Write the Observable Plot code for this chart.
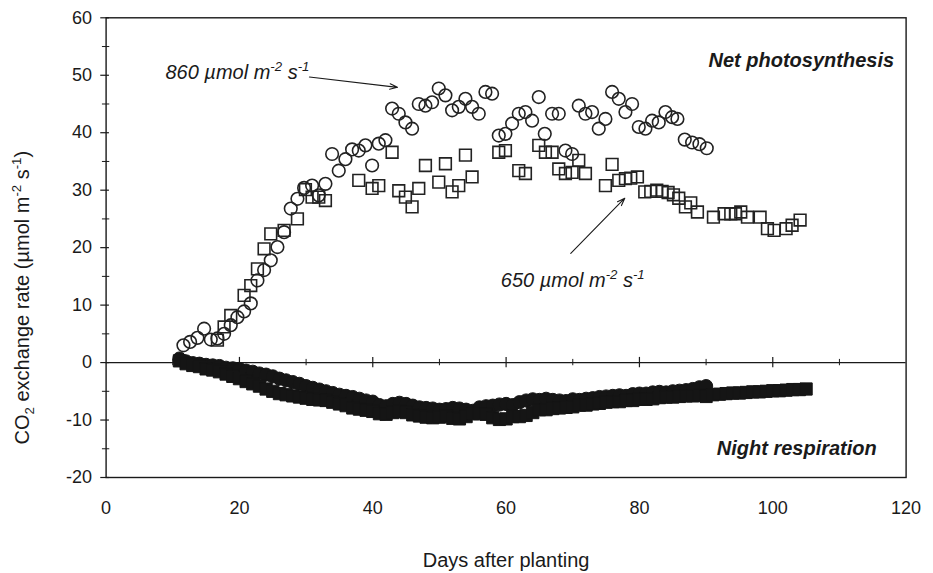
<!DOCTYPE html>
<html>
<head>
<meta charset="utf-8">
<script src="https://cdn.jsdelivr.net/npm/d3@7"></script>
<script src="https://cdn.jsdelivr.net/npm/@observablehq/plot@0.6"></script>
<style>
  html, body { margin: 0; padding: 0; background: #fff; }
  #chart { width: 933px; height: 573px; }
</style>
</head>
<body>
<div id="chart"></div>
<script>
// ---- Net photosynthesis, 860 µmol m-2 s-1 (open circles)
const ps860Days = [11.6,12.6,13.7,14.7,15.7,16.7,17.7,18.7,19.7,20.7,21.7,22.7,23.7,24.7,25.7,26.7,27.7,28.7,29.7,
  30.9,31.9,32.9,33.9,34.9,35.9,36.9,37.9,38.9,39.9,40.9,41.9,42.9,43.9,44.9,45.9,46.9,47.9,48.9,49.9,50.9,
  51.9,52.9,53.9,54.9,55.9,56.9,57.9,58.9,59.9,60.9,61.9,62.9,63.9,64.9,65.8,66.9,67.9,68.9,69.9,70.9,
  71.9,72.9,73.9,74.9,75.9,76.9,77.9,78.9,79.9,80.9,81.9,82.9,83.9,84.9,85.7,86.8,87.9,89.0,90.1];
const ps860 = [3.0,3.6,4.3,5.9,4.0,4.2,5.0,6.5,7.9,8.9,10.3,14.3,16.1,17.8,20.1,22.7,26.8,28.5,30.4,
  30.8,29.1,31.1,36.3,33.4,35.4,37.1,36.9,37.8,34.3,38.1,38.7,44.2,43.3,41.8,40.7,45.0,44.7,45.3,47.7,46.5,
  43.9,44.5,45.9,44.5,43.3,47.1,46.8,39.5,39.8,41.6,43.3,43.6,42.1,46.2,39.8,43.3,43.3,36.9,36.3,44.7,
  43.3,43.6,40.7,42.4,47.1,45.9,43.6,45.0,41.0,40.7,42.1,41.8,43.6,42.7,42.4,38.8,38.3,38.0,37.3];

// ---- Net photosynthesis, 650 µmol m-2 s-1 (open squares)
const ps650Days = [16.7,17.7,18.7,20.7,21.7,22.7,23.7,24.7,26.7,28.7,29.9,30.9,31.9,32.9,37.9,39.9,40.9,42.9,43.9,44.9,
  45.9,46.9,47.9,49.9,50.9,51.9,52.9,53.9,54.9,58.9,59.9,61.9,62.9,64.9,65.9,66.9,67.9,68.9,69.9,70.9,
  71.9,74.9,75.9,76.9,77.9,78.7,79.7,80.8,81.7,82.6,83.4,84.3,85.1,85.9,86.9,87.7,88.7,91.1,92.7,93.7,
  94.4,95.2,96.2,98.1,99.2,100.2,102.0,102.9,104.1];
const ps650 = [3.9,6.2,8.2,11.7,13.4,16.3,19.8,22.4,23.0,25.0,30.1,28.8,28.8,28.2,31.7,30.3,30.8,36.6,29.9,28.8,
  27.1,30.3,34.3,31.4,34.6,29.7,30.8,36.1,32.3,36.6,36.9,33.4,32.9,37.8,36.6,36.6,33.7,32.9,33.1,35.2,
  32.9,30.8,34.5,31.7,32.0,32.1,32.3,29.7,29.8,30.0,29.8,29.6,29.2,28.6,27.1,27.8,26.2,25.3,25.9,25.9,
  25.9,26.2,25.3,25.3,23.3,23.0,23.3,23.9,24.8];

// ---- Night respiration, 860 (filled circles)
const resp860Days = [11,12,13,14,15,16,17,18,19,20,21,22,23,24,25,26,27,28,29,30,
  31,32,33,34,35,36,37,38,39,40,41,42,43,44,45,46,47,48,49,50,
  51,52,53,54,55,56,57,58,59,60,61,62,63,64,65,66,67,68,69,70,
  71,72,73,74,75,76,77,78,79,80,81,82,83,84,85,86,87,88,89,90];
const resp860 = [0.7,0.2,-0.1,-0.2,-0.4,-0.5,-0.6,-0.9,-1.0,-1.1,-1.4,-1.6,-1.9,-2.1,-2.4,-2.8,-3.1,-3.4,-3.7,-4.1,
  -4.4,-4.7,-5.0,-5.3,-5.6,-5.8,-6.0,-6.3,-6.6,-6.8,-7.4,-7.6,-7.2,-7.0,-7.2,-7.5,-7.8,-7.9,-8.0,-8.2,
  -8.1,-7.9,-8.0,-8.2,-8.4,-7.8,-7.6,-7.5,-7.3,-7.2,-7.4,-6.9,-6.6,-6.4,-6.5,-6.3,-6.5,-6.6,-6.7,-6.4,
  -6.5,-6.3,-6.2,-6.0,-5.9,-5.8,-5.7,-5.8,-5.5,-5.4,-5.4,-5.2,-5.1,-5.2,-5.0,-4.9,-4.8,-4.6,-4.3,-4.1];

// ---- Night respiration, 650 (filled squares)
const resp650Days = [11,12,13,14,15,16,17,18,19,20,21,22,23,24,25,26,27,28,29,30,
  31,32,33,34,35,36,37,38,39,40,41,42,43,44,45,46,47,48,49,50,
  51,52,53,54,55,56,57,58,59,60,61,62,63,64,65,66,67,68,69,70,
  71,72,73,74,75,76,77,78,79,80,81,82,83,84,85,86,87,88,89,90,
  91,92,93,94,95,96,97,98,99,100,101,102,103,104,105];
const resp650 = [0.3,-0.2,-0.5,-0.7,-1.1,-1.3,-1.6,-2.0,-2.4,-2.8,-3.3,-3.7,-4.1,-4.6,-5.0,-5.4,-5.6,-5.8,-6.0,-6.2,
  -6.4,-6.5,-6.6,-6.9,-7.2,-7.5,-7.9,-8.1,-8.3,-8.5,-8.9,-9.0,-8.7,-8.5,-8.7,-9.1,-9.3,-9.5,-9.6,-9.5,
  -9.3,-9.7,-9.8,-9.4,-8.9,-8.9,-9.0,-9.6,-9.9,-9.8,-9.4,-9.4,-9.2,-8.7,-8.2,-8.2,-8.0,-7.9,-7.8,-7.7,
  -7.4,-7.4,-7.2,-7.1,-6.9,-6.8,-6.8,-6.6,-6.6,-6.4,-6.4,-6.3,-6.1,-6.0,-6.0,-5.9,-5.8,-5.8,-5.7,-5.9,
  -5.6,-5.5,-5.4,-5.3,-5.3,-5.2,-5.1,-5.1,-5.0,-4.9,-4.9,-4.8,-4.7,-4.7,-4.6];

// ---- Ticks and labels
const xTickValues = [0, 20, 40, 60, 80, 100, 120];
const xMinorTicks = [10, 30, 50, 70, 90, 110];
const yTickValues = [-20, -10, 0, 10, 20, 30, 40, 50, 60];
const yMinorTicks = [-15, -5, 5, 15, 25, 35, 45, 55];
const xTitle = "Days after planting";
const yTitle = "CO2 exchange rate (µmol m-2 s-1)";
const label860 = "860 µmol m-2 s-1";
const label650 = "650 µmol m-2 s-1";
const labelNet = "Net photosynthesis";
const labelNight = "Night respiration";

const zip = (xs, ys) => xs.map((x, i) => ({x, y: ys[i]}));
const ink = "#1a1a1a";

const chart = Plot.plot({
  width: 933,
  height: 573,
  marginLeft: 105.6,
  marginRight: 27.4,
  marginTop: 17.3,
  marginBottom: 96,
  style: {fontFamily: "'Liberation Sans', Arial, sans-serif", fontSize: "18px", color: ink, background: "#fff"},
  x: {domain: [0, 120], ticks: xTickValues, tickFormat: d => String(d), tickSize: 0, tickPadding: 24, label: null},
  y: {domain: [-20, 60], ticks: yTickValues, tickFormat: d => String(d), tickSize: 0, tickPadding: 14, label: null},
  marks: [
    Plot.frame({stroke: ink, strokeWidth: 1.4}),
    Plot.ruleY([0], {stroke: ink, strokeWidth: 1.2}),
    // ticks on the zero line
    Plot.ruleX(xTickValues.filter(d => d > 0 && d < 120), {x: d => d, y1: -0.9, y2: 0.9, stroke: ink, strokeWidth: 1.2}),
    Plot.ruleX(xMinorTicks, {x: d => d, y1: -0.55, y2: 0.55, stroke: ink, strokeWidth: 1}),
    // ticks on the y axis
    Plot.ruleY(yTickValues, {y: d => d, x1: -0.8, x2: 0.5, stroke: ink, strokeWidth: 1.2}),
    Plot.ruleY(yMinorTicks, {y: d => d, x1: -0.55, x2: 0.55, stroke: ink, strokeWidth: 1}),
    // respiration (filled)
    Plot.dot(zip(resp860Days, resp860), {x: "x", y: "y", r: 6.6, symbol: "circle", fill: "#151515", stroke: "#151515", strokeWidth: 1}),
    Plot.dot(zip(resp650Days, resp650), {x: "x", y: "y", r: 6.9, symbol: "square", fill: "#151515", stroke: "#151515", strokeWidth: 1}),
    // photosynthesis (open)
    Plot.dot(zip(ps860Days, ps860), {x: "x", y: "y", r: 6.3, symbol: "circle", fill: "none", stroke: "#222", strokeWidth: 1.6}),
    Plot.dot(zip(ps650Days, ps650), {x: "x", y: "y", r: 6.6, symbol: "square", fill: "none", stroke: "#222", strokeWidth: 1.6}),
    // annotations
    Plot.arrow([0], {x1: 30.5, y1: 49.7, x2: 43.7, y2: 47.9, stroke: ink, strokeWidth: 1.1, headLength: 11, headAngle: 40}),
    Plot.arrow([0], {x1: 69.7, y1: 19.0, x2: 77.8, y2: 28.6, stroke: ink, strokeWidth: 1.1, headLength: 11, headAngle: 40}),
    Plot.text([label860], {x: 8.9, y: 50.5, text: d => d, textAnchor: "start", fontStyle: "italic", fontSize: 20, fill: ink}),
    Plot.text([label650], {x: 59.2, y: 14.3, text: d => d, textAnchor: "start", fontStyle: "italic", fontSize: 20, fill: ink}),
    Plot.text([labelNet], {x: 118.2, y: 52.6, text: d => d, textAnchor: "end", fontStyle: "italic", fontWeight: "bold", fontSize: 20, fill: ink}),
    Plot.text([labelNight], {x: 115.6, y: -14.9, text: d => d, textAnchor: "end", fontStyle: "italic", fontWeight: "bold", fontSize: 20, fill: ink}),
    // axis titles
    Plot.text([xTitle], {frameAnchor: "bottom", textAnchor: "middle", dy: 89, text: d => d, fontSize: 20, fill: ink}),
    Plot.text([yTitle], {frameAnchor: "left", textAnchor: "middle", rotate: -90, dx: -84, dy: 50, text: d => d, fontSize: 20, fill: ink})
  ]
});

document.getElementById("chart").appendChild(chart);

// rich text: subscripts / superscripts as real tspans
function setRich(svg, key, parts, fs) {
  const t = [...svg.querySelectorAll("text")].find(e => e.textContent === key);
  if (!t) return;
  while (t.firstChild) t.removeChild(t.firstChild);
  let shift = 0;
  for (const [s, kind] of parts) {
    const ts = document.createElementNS("http://www.w3.org/2000/svg", "tspan");
    const target = kind === "sup" ? -0.38 * fs : kind === "sub" ? 0.25 * fs : 0;
    ts.setAttribute("dy", target - shift);
    shift = target;
    if (kind !== "n") ts.setAttribute("font-size", (fs * 0.66).toFixed(1));
    ts.textContent = s;
    t.appendChild(ts);
  }
}
setRich(chart, yTitle, [["CO", "n"], ["2", "sub"], [" exchange rate (µmol m", "n"], ["-2", "sup"], [" s", "n"], ["-1", "sup"], [")", "n"]], 20);
setRich(chart, label860, [["860 µmol m", "n"], ["-2", "sup"], [" s", "n"], ["-1", "sup"]], 20);
setRich(chart, label650, [["650 µmol m", "n"], ["-2", "sup"], [" s", "n"], ["-1", "sup"]], 20);
</script>
</body>
</html>
